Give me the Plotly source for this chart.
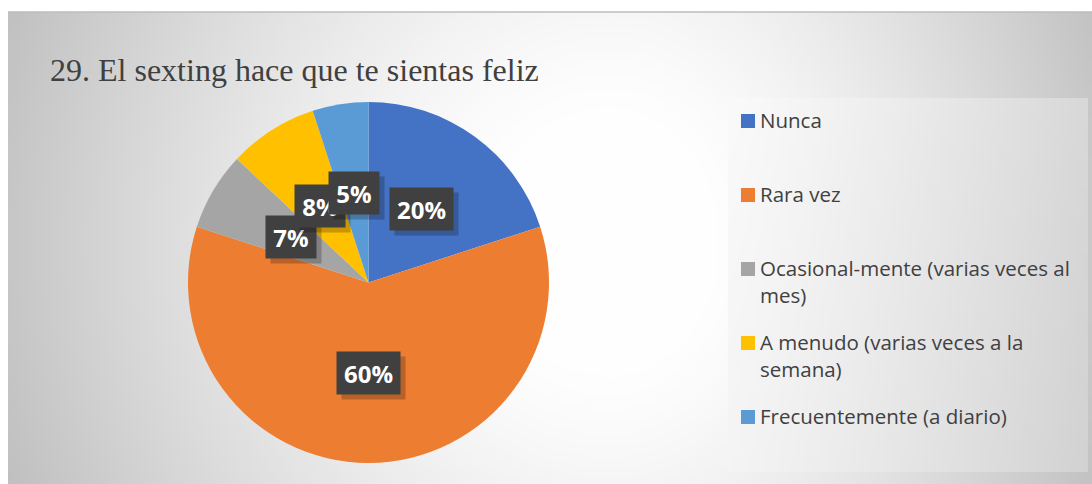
import base64, struct, zlib, math
import plotly.graph_objects as go

# ---------------- data ----------------
categories = ["Nunca", "Rara vez", "Ocasional-mente (varias veces al mes)",
              "A menudo (varias veces a la semana)", "Frecuentemente (a diario)"]
legend_labels = ["Nunca", "Rara vez", "Ocasional-mente (varias veces al<br>mes)",
                 "A menudo (varias veces a la<br>semana)", "Frecuentemente (a diario)"]
values = [20, 60, 7, 8, 5]
colors = ["#4472C4", "#ED7D31", "#A5A5A5", "#FFC000", "#5B9BD5"]
title = "29. El sexting hace que te sientas feliz"

W, H = 1092, 484


def px(x):
    return x / W


def py(y):
    return 1 - y / H


def png_uri(w, h, func):
    raw = b""
    for j in range(h):
        row = bytearray([0])
        for i in range(w):
            c = func(i, j)
            row += bytes((c, c, c))
        raw += bytes(row)
    def chunk(t, d):
        c = struct.pack(">I", len(d)) + t + d
        return c + struct.pack(">I", zlib.crc32(t + d) & 0xffffffff)
    data = b"\x89PNG\r\n\x1a\n" + chunk(b"IHDR", struct.pack(">IIBBBBB", w, h, 8, 2, 0, 0, 0)) \
        + chunk(b"IDAT", zlib.compress(raw, 9)) + chunk(b"IEND", b"")
    return "data:image/png;base64," + base64.b64encode(data).decode()


# background gradient (chart area 8..1092 x 12..484)
S = 4
bx0, by0, bx1, by1 = 8, 12, 1092, 484
bw, bh = (bx1 - bx0) // S, (by1 - by0) // S


def bg(i, j):
    x = bx0 + i * S
    y = by0 + j * S
    dx = (x - 610) / (610 if x < 610 else 500)
    dy = (y - 240) / 620
    t = math.sqrt(dx * dx + dy * dy)
    s = max(0.0, (t - 0.22) / 0.78)
    c = 254 - 56 * s ** 1.25
    return int(max(192, min(254, c)))


lx0, ly0, lx1, ly1 = 728, 98, 1088, 472
lw, lh = (lx1 - lx0) // S, (ly1 - ly0) // S


def lg(i, j):
    u = i * S / (lx1 - lx0)
    v = j * S / (ly1 - ly0)
    c = 250 - 34 * u ** 1.2 - 6 * v
    return int(max(200, min(252, c)))


images = [
    dict(source=png_uri(bw, bh, bg), xref="paper", yref="paper", x=px(bx0), y=py(by0),
         sizex=px(bx1) - px(bx0), sizey=py(by0) - py(by1), sizing="stretch",
         xanchor="left", yanchor="top", layer="below"),
    dict(source=png_uri(lw, lh, lg), xref="paper", yref="paper", x=px(lx0), y=py(ly0),
         sizex=px(lx1) - px(lx0), sizey=py(ly0) - py(ly1), sizing="stretch",
         xanchor="left", yanchor="top", layer="below"),
]

# pie geometry (pixels)
cx, cy, R = 368.5, 282.5, 180.5

fig = go.Figure()
fig.add_trace(go.Pie(
    labels=categories, values=values, sort=False, direction="clockwise", rotation=0,
    marker=dict(colors=colors, line=dict(width=0)), textinfo="none", hoverinfo="label+percent",
    showlegend=False,
    domain=dict(x=[px(cx - R), px(cx + R)], y=[py(cy + R), py(cy - R)]),
))

annotations = []
shapes = []

# data labels
total = sum(values)
cum = 0
for v in values:
    mid = (cum + v / 2) / total * 2 * math.pi
    cum += v
    lxp = cx + 0.5 * R * math.sin(mid)
    lyp = cy - 0.5 * R * math.cos(mid)
    pct = str(round(v / total * 100))
    txt = f"<b>{pct}%</b>"
    common = dict(xref="paper", yref="paper", x=px(lxp), y=py(lyp), showarrow=False,
                  xanchor="center", yanchor="middle", height=28, borderpad=7,
                  width=round(13.7 * len(pct) + 22))
    annotations.append(dict(text=" ", bgcolor="rgba(0,0,0,0.22)", xshift=5, yshift=-5,
                            font=dict(family="Open Sans", size=24, color="rgba(0,0,0,0)"), **common))
    annotations.append(dict(text=txt, bgcolor="#404040",
                            font=dict(family="Open Sans", size=24, color="#ffffff"), **common))

# legend
for k, (lab, col) in enumerate(zip(legend_labels, colors)):
    yc = 121 + 74 * k
    shapes.append(dict(type="rect", xref="paper", yref="paper", x0=px(741), x1=px(755),
                       y0=py(yc + 7), y1=py(yc - 7), fillcolor=col, line=dict(width=0)))
    annotations.append(dict(text=lab, xref="paper", yref="paper", x=px(758), y=py(yc - 17),
                            xanchor="left", yanchor="top", align="left", showarrow=False,
                            font=dict(family="Open Sans", size=20.5, color="#404040")))

# title
annotations.append(dict(text=title, xref="paper", yref="paper", x=px(48), y=py(70),
                        xanchor="left", yanchor="middle", showarrow=False,
                        font=dict(family="Liberation Serif", size=32, color="#404040")))

# top border line
shapes.append(dict(type="line", xref="paper", yref="paper", x0=px(8), x1=1, y0=py(12), y1=py(12),
                   line=dict(color="#bdbdbd", width=1.5)))

fig.update_layout(
    width=W, height=H, margin=dict(l=0, r=0, t=0, b=0),
    paper_bgcolor="white", plot_bgcolor="white",
    images=images, annotations=annotations, shapes=shapes,
)
fig.write_html("out.html", config={"displayModeBar": False},
               post_script="document.body.style.margin='0';document.body.style.overflow='hidden';")
